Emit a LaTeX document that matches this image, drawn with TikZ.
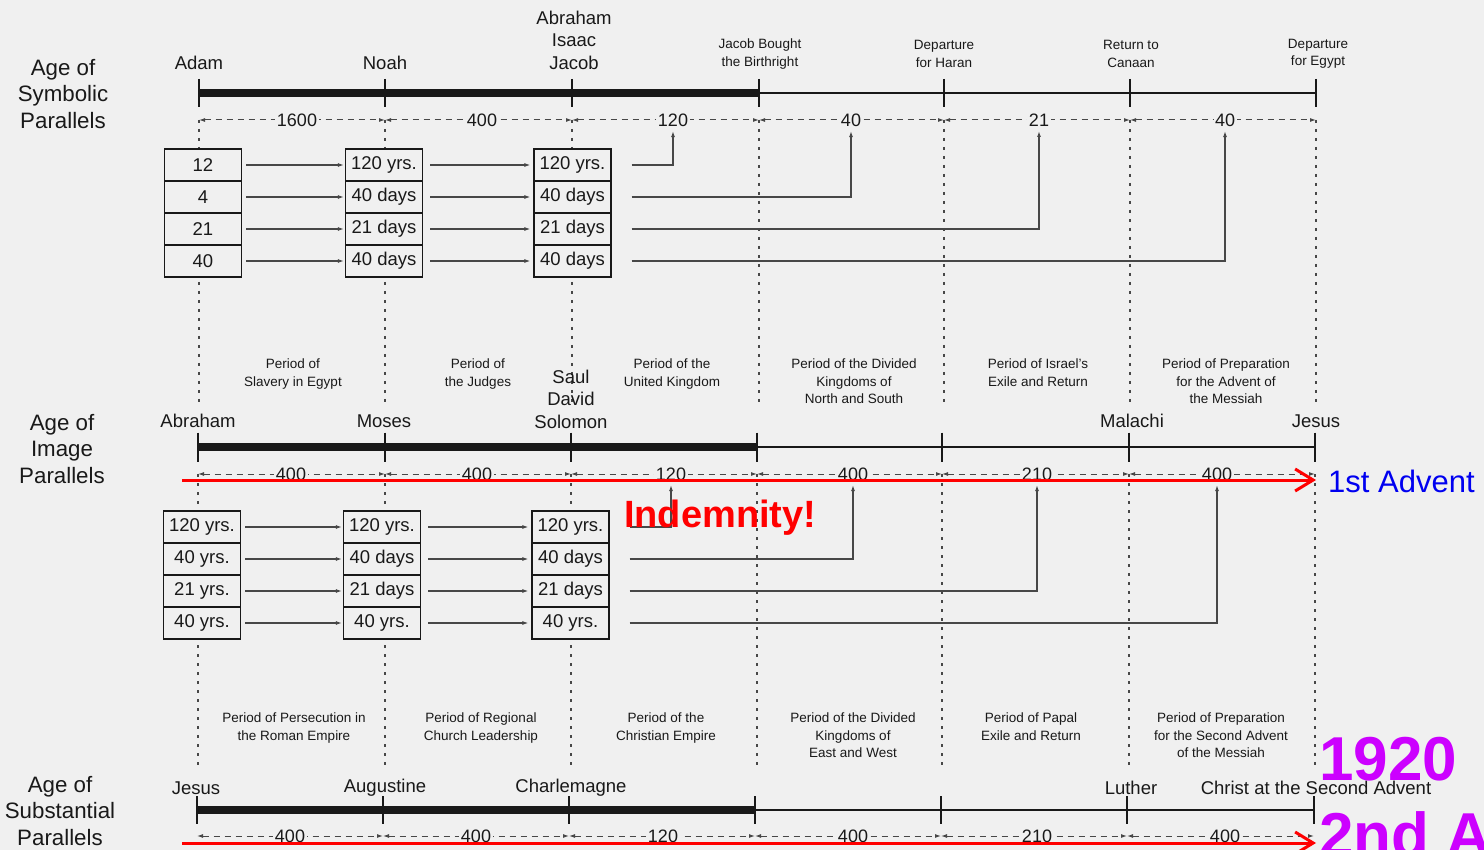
\documentclass[tikz,border=0pt]{standalone}
\usepackage{fontspec}
\setmainfont{Liberation Sans}
\usetikzlibrary{arrows.meta}

\definecolor{paper}{RGB}{240,240,240}
\definecolor{ink}{RGB}{25,25,25}
\definecolor{advblue}{RGB}{0,0,240}
\definecolor{violet}{RGB}{204,0,255}

\tikzset{
  agelabel/.style={align=center, text=ink, inner sep=0pt, font=\fontsize{22.3}{26.5}\selectfont},
  who/.style={align=center, text=ink, inner sep=0pt, font=\fontsize{18.5}{22.5}\selectfont},
  event/.style={align=center, text=ink, inner sep=0pt, font=\fontsize{13.5}{17.5}\selectfont},
  era/.style={event, anchor=north},
  years/.style={text=ink, fill=paper, inner sep=1.5pt, font=\fontsize{18}{20}\selectfont},
  cell/.style={draw=ink, fill=paper, line width=1.2pt, minimum width=77pt, minimum height=32pt,
    inner sep=0pt, text=ink, font=\fontsize{18.5}{20}\selectfont},
  heavy/.style={ink, line width=8pt},
  light/.style={ink, line width=1.8pt},
  tick/.style={ink, line width=1.8pt},
  guide/.style={ink!80, line width=1.3pt, dash pattern=on 3pt off 6pt},
  span/.style={ink!80, line width=1pt, dash pattern=on 6pt off 5pt,
    {Latex[length=6pt,width=4pt]}-{Latex[length=6pt,width=4pt]}},
  link/.style={ink!80, line width=1.2pt, -{Latex[length=6pt,width=4pt]}},
  advent/.style={red, line width=3pt, -{Straight Barb[length=18pt,width=22pt]}},
}

\begin{document}
\begin{tikzpicture}[x=1pt,y=-1pt]
  \fill[paper] (0,0) rectangle (1484,850);
  \useasboundingbox (0,0) rectangle (1484,850);

  % row titles
  \node[agelabel] (agesym) at (63,94) {Age of\\Symbolic\\Parallels};
  \node[agelabel] (ageimg) at (62,449) {Age of\\Image\\Parallels};
  \node[agelabel] (agesub) at (60,811) {Age of\\Substantial\\Parallels};

  % symbolic parallels
  \foreach \x [count=\i from 0] in {199,385,572,759,944,1130,1316} {
    \coordinate (st\i) at (\x,93);
    \coordinate (sd\i) at (\x,120);
    \coordinate (sg\i) at (\x,405);
    \draw[guide] (sd\i) -- (sg\i);
    \draw[tick] ([yshift=14pt]st\i) -- ([yshift=-14pt]st\i);
  }
  \draw[heavy] (st0) -- (st3);
  \draw[light] (st3) -- (st6);

  \node[who] (adam) at (199,63) {Adam};
  \node[who] (noah) at (385,63) {Noah};
  \node[who] (patriarchs) at (574,40) {Abraham\\Isaac\\Jacob};
  \node[event] (birthright) at (760,54) {Jacob Bought\\the Birthright};
  \node[event] (haran) at (944,54) {Departure\\for Haran};
  \node[event] (canaan) at (1131,54) {Return to\\Canaan};
  \node[event] (egypt) at (1318,54) {Departure\\for Egypt};

  \foreach \a/\b in {0/1,1/2,2/3,3/4,4/5,5/6}
    \draw[span] (sd\a) -- (sd\b);
  \foreach \x/\t [count=\i] in {297/1600,482/400,673/120,851/40,1039/21,1225/40}
    \node[years] (sn\i) at (\x,120) {\t};

  \foreach \t [count=\r] in {12,4,21,40}
    \node[cell] (sa\r) at (203,{133+32*\r}) {\t};
  \foreach \t [count=\r] in {120 yrs.,40 days,21 days,40 days} {
    \node[cell] (sb\r) at (384,{133+32*\r}) {\t};
    \node[cell] (sc\r) at (572.5,{133+32*\r}) {\t};
  }
  \foreach \r in {1,...,4} {
    \draw[link, shorten <=4pt, shorten >=1pt] (sa\r) -- (sb\r);
    \draw[link, shorten <=7pt, shorten >=3pt] (sb\r) -- (sc\r);
  }
  \foreach \r/\k in {1/3,2/4,3/5,4/6}
    \draw[link, shorten <=20pt, shorten >=3pt] (sc\r.east) -| (sn\k.south);

  % image parallels
  \foreach \x [count=\i from 0] in {198,385,571,757,942,1129,1315} {
    \coordinate (mt\i) at (\x,447);
    \coordinate (md\i) at (\x,474);
    \coordinate (mg\i) at (\x,770);
    \draw[guide] (md\i) -- (mg\i);
    \draw[tick] ([yshift=14.5pt]mt\i) -- ([yshift=-14.5pt]mt\i);
  }
  \draw[heavy] (mt0) -- (mt3);
  \draw[light] (mt3) -- (mt6);

  \node[era] (slavery) at (293,359) {Period of\\Slavery in Egypt};
  \node[era] (judges) at (478,359) {Period of\\the Judges};
  \node[era] (united) at (672,359) {Period of the\\United Kingdom};
  \node[era] (dividedns) at (854,359) {Period of the Divided\\Kingdoms of\\North and South};
  \node[era] (exile) at (1038,359) {Period of Israel's\\Exile and Return};
  \node[era] (prepfirst) at (1226,359) {Period of Preparation\\for the Advent of\\the Messiah};

  \node[who] (abraham) at (198,421) {Abraham};
  \node[who] (moses) at (384,421) {Moses};
  \node[who] (kings) at (571,399) {Saul\\David\\Solomon};
  \node[who] (malachi) at (1132,421) {Malachi};
  \node[who] (jesusone) at (1316,421) {Jesus};

  \foreach \a/\b in {0/1,1/2,2/3,3/4,4/5,5/6}
    \draw[span] (md\a) -- (md\b);
  \foreach \x/\t [count=\i] in {291/400,477/400,671/120,853/400,1037/210,1217/400}
    \node[years] (mn\i) at (\x,474) {\t};

  \foreach \t [count=\r] in {120 yrs.,40 yrs.,21 yrs.,40 yrs.}
    \node[cell] (ma\r) at (202,{495+32*\r}) {\t};
  \foreach \t [count=\r] in {120 yrs.,40 days,21 days,40 yrs.} {
    \node[cell] (mb\r) at (382,{495+32*\r}) {\t};
    \node[cell] (mc\r) at (570.5,{495+32*\r}) {\t};
  }
  \foreach \r in {1,...,4} {
    \draw[link, shorten <=4pt, shorten >=1pt] (ma\r) -- (mb\r);
    \draw[link, shorten <=7pt, shorten >=3pt] (mb\r) -- (mc\r);
  }
  \foreach \r/\k in {1/3,2/4,3/5,4/6}
    \draw[link, shorten <=20pt, shorten >=3pt] (mc\r.east) -| (mn\k.south);

  % substantial parallels
  \foreach \x [count=\i from 0] in {197,383,569,755,941,1127,1314} {
    \coordinate (bt\i) at (\x,810);
    \coordinate (bd\i) at (\x,836);
    \draw[tick] ([yshift=14pt]bt\i) -- ([yshift=-14pt]bt\i);
  }
  \draw[heavy] (bt0) -- (bt3);
  \draw[light] (bt3) -- (bt6);

  \node[era] (persecution) at (294,713) {Period of Persecution in\\the Roman Empire};
  \node[era] (regional) at (481,713) {Period of Regional\\Church Leadership};
  \node[era] (christian) at (666,713) {Period of the\\Christian Empire};
  \node[era] (dividedew) at (853,713) {Period of the Divided\\Kingdoms of\\East and West};
  \node[era] (papal) at (1031,713) {Period of Papal\\Exile and Return};
  \node[era] (prepsecond) at (1221,713) {Period of Preparation\\for the Second Advent\\of the Messiah};

  \node[who] (jesus) at (196,788) {Jesus};
  \node[who] (augustine) at (385,788) {Augustine};
  \node[who] (charlemagne) at (571,788) {Charlemagne};
  \node[who] (luther) at (1131,788) {Luther};
  \node[who] (christ) at (1316,788) {Christ at the Second Advent};

  \foreach \a/\b in {0/1,1/2,2/3,3/4,4/5,5/6}
    \draw[span] (bd\a) -- (bd\b);
  \foreach \x/\t [count=\i] in {290/400,476/400,663/120,853/400,1037/210,1225/400}
    \node[years] (bn\i) at (\x,836) {\t};

  % red notes
  \coordinate (firststart) at (182,480);
  \coordinate (firstend) at (1316,480);
  \coordinate (secondstart) at (182,843);
  \coordinate (secondend) at (1316,843);
  \draw[advent] (firststart) -- (firstend);
  \draw[advent] (secondstart) -- (secondend);
  \node[anchor=base west, inner sep=0pt, text=advblue, font=\fontsize{31}{31}\selectfont]
    (firstadvent) at (1328,492) {1st Advent};
  \node[anchor=base west, inner sep=0pt, text=red, font=\bfseries\fontsize{38}{38}\selectfont]
    (indemnity) at (624,527) {Indemnity!};
  \node[anchor=base west, inner sep=0pt, text=violet, font=\bfseries\fontsize{62}{62}\selectfont]
    (year) at (1319,780) {1920};
  \node[anchor=base west, inner sep=0pt, text=violet, font=\bfseries\fontsize{62}{62}\selectfont]
    (secondadvent) at (1319,856) {2nd Advent};
\end{tikzpicture}
\end{document}
